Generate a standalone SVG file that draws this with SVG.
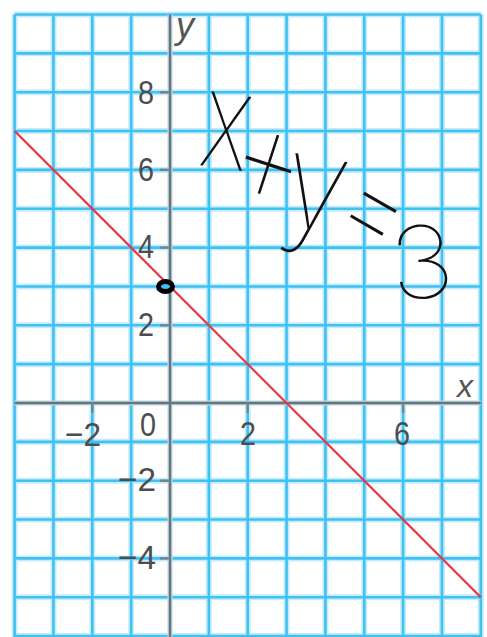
<svg xmlns="http://www.w3.org/2000/svg" width="487" height="637" viewBox="0 0 487 637">
<style>
.halo{stroke:#c6ecfb;stroke-width:6;fill:none}
.grid{stroke:#3fc2f3;stroke-width:2.6;fill:none}
.axis{stroke:#5d7784;stroke-width:2.4;fill:none}
.axhalo{stroke:#c9d3d8;stroke-width:5;fill:none}
.tick{stroke:#70858f;stroke-width:2.4}
.lbl{font-family:"Liberation Sans",Arial,sans-serif;font-size:34px;fill:#4d4d4d}
.ax{font-family:"Liberation Sans",Arial,sans-serif;font-style:italic;fill:#555}
.hw{font-family:Inter,"DejaVu Sans",sans-serif;font-weight:100;fill:#111}
</style>
<rect width="487" height="637" fill="#ffffff"/>
<g id="grid">
<g class="halo">
<path d="M14.6 14.5V637M53.45 14.5V637M92.3 14.5V637M131.15 14.5V637M208.85 14.5V637M247.7 14.5V637M286.55 14.5V637M325.4 14.5V637M364.25 14.5V637M403.1 14.5V637M441.95 14.5V637M480.8 14.5V637"/>
<path d="M14.6 14.5H480.8M14.6 53.35H480.8M14.6 92.2H480.8M14.6 131.05H480.8M14.6 169.9H480.8M14.6 208.75H480.8M14.6 247.6H480.8M14.6 286.45H480.8M14.6 325.3H480.8M14.6 364.15H480.8M14.6 441.85H480.8M14.6 480.7H480.8M14.6 519.55H480.8M14.6 558.4H480.8M14.6 597.25H480.8M14.6 636.1H480.8"/>
</g>
<g class="grid">
<path d="M14.6 14.5V637M53.45 14.5V637M92.3 14.5V637M131.15 14.5V637M208.85 14.5V637M247.7 14.5V637M286.55 14.5V637M325.4 14.5V637M364.25 14.5V637M403.1 14.5V637M441.95 14.5V637M480.8 14.5V637"/>
<path d="M14.6 14.5H480.8M14.6 53.35H480.8M14.6 92.2H480.8M14.6 131.05H480.8M14.6 169.9H480.8M14.6 208.75H480.8M14.6 247.6H480.8M14.6 286.45H480.8M14.6 325.3H480.8M14.6 364.15H480.8M14.6 441.85H480.8M14.6 480.7H480.8M14.6 519.55H480.8M14.6 558.4H480.8M14.6 597.25H480.8M14.6 636.1H480.8"/>
</g>
</g>
<g id="axes">
<path class="axhalo" d="M14.6 403H480.8M170 14.5V637"/>
<path class="axis" d="M14.6 403H480.8M170 14.5V637"/>
<path class="tick" d="M160 92.2H170M160 169.9H170M160 247.6H170M160 325.3H170M160 480.7H170M160 558.4H170M92.3 403V413M247.7 403V413M403.1 403V413"/>
</g>
<g id="labels">
<text class="lbl" x="146" y="104" text-anchor="middle" textLength="16" lengthAdjust="spacingAndGlyphs">8</text>
<text class="lbl" x="146" y="181" text-anchor="middle" textLength="16" lengthAdjust="spacingAndGlyphs">6</text>
<text class="lbl" x="146" y="258" text-anchor="middle" textLength="16" lengthAdjust="spacingAndGlyphs">4</text>
<text class="lbl" x="146" y="336" text-anchor="middle" textLength="16" lengthAdjust="spacingAndGlyphs">2</text>
<text class="lbl" x="156" y="491" text-anchor="end" textLength="38" lengthAdjust="spacingAndGlyphs">−2</text>
<text class="lbl" x="156" y="569" text-anchor="end" textLength="38" lengthAdjust="spacingAndGlyphs">−4</text>
<text class="lbl" x="101" y="446" text-anchor="end" textLength="36" lengthAdjust="spacingAndGlyphs">−2</text>
<text class="lbl" x="148" y="436" text-anchor="middle" textLength="16" lengthAdjust="spacingAndGlyphs">0</text>
<text class="lbl" x="248" y="445" text-anchor="middle" textLength="16" lengthAdjust="spacingAndGlyphs">2</text>
<text class="lbl" x="402" y="445" text-anchor="middle" textLength="16" lengthAdjust="spacingAndGlyphs">6</text>
<text class="ax" x="185" y="38" font-size="36" text-anchor="middle">y</text>
<text class="ax" x="465" y="397" font-size="32" text-anchor="middle">x</text>
</g>
<g id="graph-line">
<line x1="14.6" y1="131.05" x2="480.8" y2="597.25" stroke="#ee3340" stroke-width="2.2"/>
<ellipse cx="165.5" cy="286.5" rx="7" ry="5" fill="#3fc2f3" stroke="#000" stroke-width="5"/>
</g>
<g id="annotation" class="hw">
<text transform="translate(221,168) rotate(8) scale(0.7,1)" font-size="137" text-anchor="middle">x</text>
<text transform="translate(272,153) rotate(18) scale(1,1.3)" font-size="115" text-anchor="middle" dominant-baseline="central">+</text>
<text transform="translate(309,228) rotate(10) scale(0.95,1.05)" font-size="125" text-anchor="middle">y</text>
<text transform="translate(379,204) rotate(30) scale(1,1.25)" font-size="110" text-anchor="middle" dominant-baseline="central">=</text>
<text transform="translate(425,298) rotate(-5) scale(1.1,1)" font-size="100" text-anchor="middle">3</text>
</g>
</svg>
